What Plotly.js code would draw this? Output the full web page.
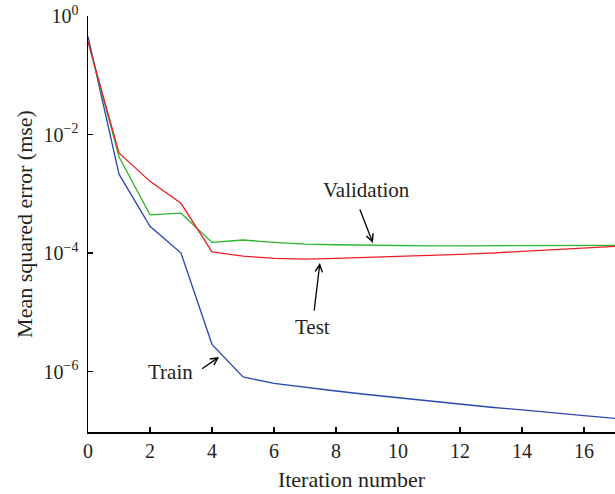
<!DOCTYPE html>
<html>
<head>
<meta charset="utf-8">
<script src="https://cdn.plot.ly/plotly-3.0.1.min.js"></script>
<style>html,body{margin:0;padding:0;background:#fff;}#chart{width:615px;height:494px;}</style>
</head>
<body>
<div id="chart"></div>
<script>
var iterations = [0,1,2,3,4,5,6,7,8,9,10,11,12,13,14,15,16,17];
var trainMse = [0.452,2.14e-3,2.82e-4,1.0e-4,2.88e-6,8.1e-7,6.3e-7,5.4e-7,4.7e-7,4.1e-7,3.6e-7,3.2e-7,2.8e-7,2.5e-7,2.26e-7,2.0e-7,1.8e-7,1.62e-7];
var validationMse = [0.37,4.2e-3,4.4e-4,4.7e-4,1.51e-4,1.66e-4,1.51e-4,1.41e-4,1.38e-4,1.35e-4,1.33e-4,1.32e-4,1.32e-4,1.32e-4,1.32e-4,1.33e-4,1.33e-4,1.35e-4];
var testMse = [0.37,4.9e-3,1.62e-3,6.9e-4,1.05e-4,8.9e-5,8.1e-5,7.9e-5,8.1e-5,8.4e-5,8.7e-5,9.0e-5,9.5e-5,1.0e-4,1.07e-4,1.14e-4,1.22e-4,1.30e-4];
var yTickVals = [1,1e-2,1e-4,1e-6];
var yTickText = ['10<sup>0</sup>','10<sup>\u22122</sup>','10<sup>\u22124</sup>','10<sup>\u22126</sup>'];
var xTickVals = [0,2,4,6,8,10,12,14,16];

var font = 'Liberation Serif';
var ink = '#231f20';
var traces = [
  {x: iterations, y: trainMse, mode: 'lines', name: 'Train', line: {color: '#2a47b0', width: 1.3}},
  {x: iterations, y: validationMse, mode: 'lines', name: 'Validation', line: {color: '#2ab52a', width: 1.3}},
  {x: iterations, y: testMse, mode: 'lines', name: 'Test', line: {color: '#ec1c24', width: 1.3}}
];
function arrow(x, y, ax, ay) {
  return {x: x, y: y, xref: 'x', yref: 'y', text: ' ', font: {family: font, size: 2}, showarrow: true,
    arrowhead: 5, arrowsize: 1.1, arrowwidth: 1.3, arrowcolor: '#000', ax: ax, ay: ay, standoff: 0, startstandoff: 0};
}
function label(x, y, t) {
  return {x: x, y: y, xref: 'x', yref: 'y', text: t, showarrow: false,
    font: {family: font, size: 21, color: ink}};
}
var layout = {
  width: 615, height: 494,
  margin: {l: 88, r: 0, t: 16, b: 62},
  paper_bgcolor: '#fff', plot_bgcolor: '#fff',
  showlegend: false,
  font: {family: font, color: ink},
  xaxis: {
    range: [0, 17], tickvals: xTickVals, ticks: 'inside', ticklen: 5, tickwidth: 1.3, tickcolor: '#000',
    showline: true, linecolor: '#000', linewidth: 1.5, showgrid: false, zeroline: false,
    tickfont: {family: font, size: 20, color: ink},
    title: {text: 'Iteration number', font: {family: font, size: 22, color: ink}, standoff: 11}
  },
  yaxis: {
    type: 'log', range: [-7.02, 0], tickvals: yTickVals, ticktext: yTickText,
    ticks: 'inside', ticklen: 5, tickwidth: 1.3, tickcolor: '#000',
    showline: true, linecolor: '#000', linewidth: 1.5, showgrid: false, zeroline: false,
    tickfont: {family: font, size: 20, color: ink}, ticklabelstandoff: 4,
    title: {text: 'Mean squared error (mse)', font: {family: font, size: 22, color: ink}, standoff: 5}
  },
  annotations: [
    label(8.99, -2.934, 'Validation'),
    label(7.23, -5.245, 'Test'),
    label(2.645, -6.007, 'Train'),
    arrow(9.19, -3.83, -14, -36),
    arrow(7.48, -4.17, -6, 50),
    arrow(4.23, -5.755, -19, 13)
  ]
};
Plotly.newPlot('chart', traces, layout, {displayModeBar: false, staticPlot: true});
</script>
</body>
</html>
